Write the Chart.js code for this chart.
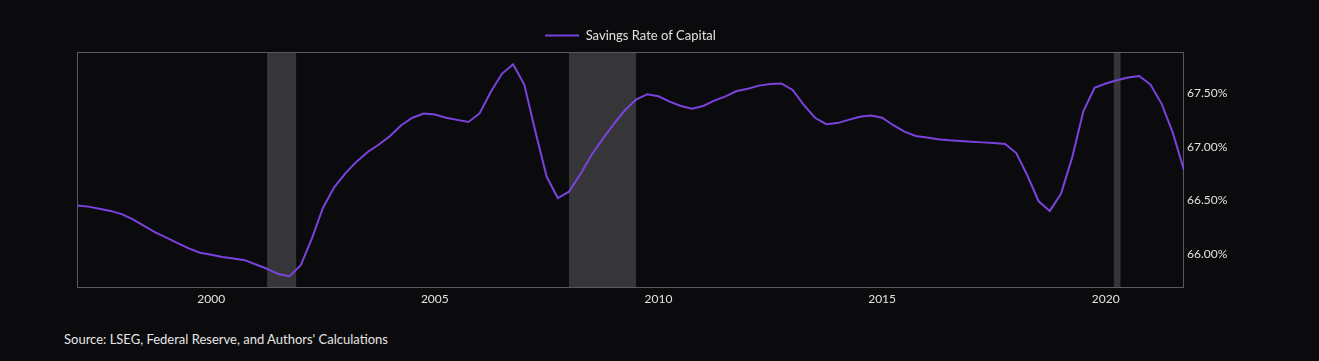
<!DOCTYPE html>
<html>
<head>
<meta charset="utf-8">
<script src="https://cdn.jsdelivr.net/npm/chart.js@4"></script>
<style>
  html, body { margin: 0; padding: 0; background: #0b0a0d; }
  #wrap { position: absolute; left: 0; top: 0; width: 1270px; height: 320px; }
  #source { position: absolute; left: 64px; top: 331px; font: 13px Lato, sans-serif; color: #e6e6e6; }
</style>
</head>
<body>
<div id="wrap"><canvas id="chart"></canvas></div>
<div id="source">Source: LSEG, Federal Reserve, and Authors' Calculations</div>
<script>
// quarterly, starting 1997 Q1
const startYear = 1997;
const savingsRate = [
  66.45, 66.44, 66.42, 66.40,
  66.37, 66.32, 66.26, 66.20,
  66.15, 66.10, 66.05, 66.01,
  65.99, 65.97, 65.955, 65.94,
  65.90, 65.86, 65.81, 65.79,
  65.89, 66.14, 66.43, 66.62,
  66.75, 66.86, 66.95, 67.02,
  67.10, 67.20, 67.27, 67.31,
  67.30, 67.27, 67.25, 67.23,
  67.31, 67.51, 67.68, 67.77,
  67.58, 67.14, 66.72, 66.52,
  66.58, 66.74, 66.92, 67.07,
  67.21, 67.34, 67.44, 67.49,
  67.47, 67.42, 67.38, 67.355,
  67.38, 67.43, 67.47, 67.52,
  67.54, 67.57, 67.585, 67.59,
  67.53, 67.39, 67.27, 67.21,
  67.22, 67.25, 67.28, 67.29,
  67.27, 67.20, 67.14, 67.10,
  67.085, 67.07, 67.06, 67.053,
  67.046, 67.04, 67.034, 67.025,
  66.94, 66.73, 66.49, 66.40,
  66.56, 66.90, 67.33, 67.55,
  67.59, 67.62, 67.645, 67.66,
  67.58, 67.40, 67.13, 66.78
];
const quarters = savingsRate.map((v, i) => startYear + i / 4);

// recession periods (decimal years)
const recessions = [[2001.25, 2001.9], [2008.0, 2009.5], [2020.18, 2020.33]];

const xTicks = [2000, 2005, 2010, 2015, 2020];
const yTicks = [66.0, 66.5, 67.0, 67.5];

const textColor = '#e2e2e2';
const tickFont = { family: 'Lato', size: 12 };

const recessionShading = {
  id: 'recessionShading',
  beforeDatasetsDraw(chart) {
    const { ctx, chartArea: a, scales: { x } } = chart;
    ctx.save();
    ctx.fillStyle = '#363538';
    recessions.forEach(([s, e]) => {
      const x0 = x.getPixelForValue(s);
      const x1 = x.getPixelForValue(e);
      ctx.fillRect(x0, a.top, x1 - x0, a.bottom - a.top);
    });
    ctx.strokeStyle = '#5a5a5c';
    ctx.lineWidth = 1;
    ctx.strokeRect(a.left + 0.5, a.top + 0.5, a.width - 1, a.height - 1);
    ctx.restore();
  }
};

const ctx = document.getElementById('chart').getContext('2d');

const chart = new Chart(ctx, {
  type: 'line',
  data: {
    datasets: [{
      label: 'Savings Rate of Capital',
      data: quarters.map((q, i) => ({ x: q, y: savingsRate[i] })),
      borderColor: '#7b43de',
      backgroundColor: '#7b43de',
      borderWidth: 2,
      pointRadius: 0,
      tension: 0
    }]
  },
  options: {
    responsive: true,
    maintainAspectRatio: false,
    animation: false,
    layout: { padding: { top: 19, left: 77, right: 26, bottom: 12 } },
    plugins: {
      legend: {
        fullSize: false,
        labels: {
          color: textColor,
          font: { family: 'Lato', size: 13 },
          usePointStyle: true,
          pointStyle: 'line',
          pointStyleWidth: 34
        }
      },
      tooltip: { enabled: false }
    },
    scales: {
      x: {
        type: 'linear',
        min: 1997,
        max: 2021.75,
        grid: { display: false, drawTicks: false },
        border: { display: false },
        afterBuildTicks: (s) => { s.ticks = xTicks.map(v => ({ value: v })); },
        afterFit: (s) => { s.height = 20; },
        ticks: {
          color: textColor,
          font: tickFont,
          padding: 4,
          maxRotation: 0,
          callback: (v) => String(v)
        }
      },
      y: {
        position: 'right',
        min: 65.68,
        max: 67.884,
        grid: { display: false, drawTicks: false },
        border: { display: false },
        afterBuildTicks: (s) => { s.ticks = yTicks.map(v => ({ value: v })); },
        afterFit: (s) => { s.width = 60; },
        ticks: {
          color: textColor,
          font: tickFont,
          padding: 3,
          callback: (v) => v.toFixed(2) + '%'
        }
      }
    }
  },
  plugins: [recessionShading]
});
</script>
</body>
</html>
